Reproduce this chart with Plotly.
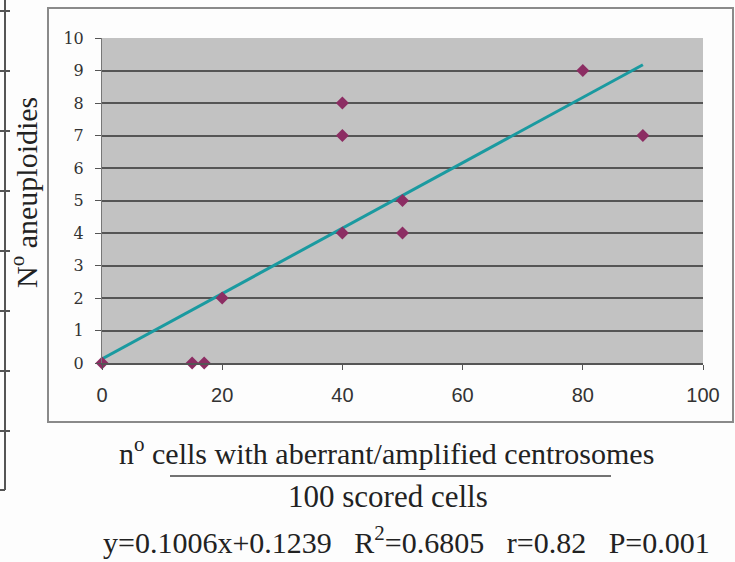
import plotly.graph_objects as go

# ---- data ----
cells_aberrant = [0, 15, 17, 20, 40, 40, 40, 50, 50, 80, 90]
aneuploidies = [0, 0, 0, 2, 4, 7, 8, 5, 4, 9, 7]
slope = 0.1006
intercept = 0.1239
trend_x = [0, 90]
y_ticks = list(range(0, 11))
x_ticks = [0, 20, 40, 60, 80, 100]

x_title = "n<sup>o</sup> cells with aberrant/amplified centrosomes"
x_title2 = "100 scored cells"
y_title = "N<sup>o</sup> aneuploidies"
stats_text = "y=0.1006x+0.1239   R<sup>2</sup>=0.6805   r=0.82   P=0.001"

W, H = 735, 562
L, R, T, B = 102, 703, 38, 363  # plot area in pixels


def px(xp):
    return (xp - L) / (R - L)


def py(yp):
    return (B - yp) / (B - T)


trend_y = [slope * v + intercept for v in trend_x]

fig = go.Figure()
fig.add_trace(go.Scatter(
    x=trend_x, y=trend_y, mode="lines",
    line=dict(color="#1a9aa0", width=3), showlegend=False, hoverinfo="skip"))
fig.add_trace(go.Scatter(
    x=cells_aberrant, y=aneuploidies, mode="markers",
    marker=dict(symbol="diamond", size=10, color="#8c2d63"),
    showlegend=False, cliponaxis=False))

shapes = []
# outer chart box
shapes.append(dict(type="rect", xref="paper", yref="paper",
                   x0=px(48), x1=px(733), y0=py(422), y1=py(8),
                   line=dict(color="#8a8a8a", width=2), layer="below"))
# fraction bar under x title
shapes.append(dict(type="line", xref="paper", yref="paper",
                   x0=px(170), x1=px(611), y0=py(476), y1=py(476),
                   line=dict(color="#444", width=1.5)))
# cropped neighbouring axis at far left
shapes.append(dict(type="line", xref="paper", yref="paper",
                   x0=px(5), x1=px(5), y0=py(0), y1=py(490),
                   line=dict(color="#555", width=2)))
shapes.append(dict(type="line", xref="paper", yref="paper",
                   x0=px(0), x1=px(5), y0=py(490), y1=py(490),
                   line=dict(color="#555", width=2)))
for ty in [11, 71, 131, 191, 251, 311, 371, 431]:
    shapes.append(dict(type="line", xref="paper", yref="paper",
                       x0=px(0), x1=px(10), y0=py(ty), y1=py(ty),
                       line=dict(color="#555", width=2)))

serif = dict(family="Liberation Serif", size=30, color="#222")
annotations = [
    dict(text=x_title, xref="paper", yref="paper", x=px(386), y=py(451),
         showarrow=False, font=serif, xanchor="center", yanchor="middle"),
    dict(text=x_title2, xref="paper", yref="paper", x=px(388), y=py(496),
         showarrow=False, font=dict(family="Liberation Serif", size=31, color="#222"),
         xanchor="center", yanchor="middle"),
    dict(text=stats_text, xref="paper", yref="paper", x=px(406), y=py(540),
         showarrow=False, font=serif, xanchor="center", yanchor="middle"),
    dict(text=y_title, xref="paper", yref="paper", x=px(24), y=py(193),
         showarrow=False, textangle=-90, font=serif,
         xanchor="center", yanchor="middle"),
]

fig.update_layout(
    width=W, height=H,
    margin=dict(l=L, r=W - R, t=T, b=H - B),
    paper_bgcolor="#fdfdfd", plot_bgcolor="#c2c2c2",
    shapes=shapes, annotations=annotations,
    xaxis=dict(range=[0, 100], tickvals=x_ticks, ticks="outside", ticklen=5,
               tickcolor="#555", showgrid=False, zeroline=False,
               showline=True, linecolor="#555", linewidth=1.5,
               tickfont=dict(family="Liberation Sans", size=20, color="#333"),
               ticklabelstandoff=8),
    yaxis=dict(range=[0, 10], tickvals=y_ticks, ticks="outside", ticklen=6,
               tickcolor="#555", showgrid=True, gridcolor="#555", gridwidth=1.5,
               zeroline=False, showline=True, linecolor="#777", linewidth=1,
               tickfont=dict(family="DejaVu Serif", size=16, color="#333"),
               ticklabelstandoff=8),
)

fig.write_html("out.html", config={"displayModeBar": False},
               post_script="document.body.style.margin='0';")
